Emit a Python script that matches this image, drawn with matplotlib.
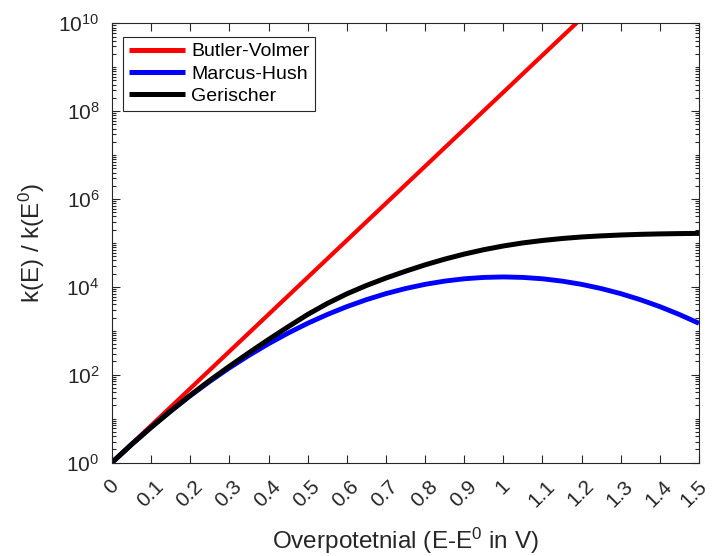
import matplotlib
matplotlib.use('Agg')
import matplotlib.pyplot as plt
import matplotlib.transforms as mtransforms
from matplotlib.ticker import FixedLocator, NullFormatter

plt.rcParams['font.family'] = ['Liberation Sans', 'DejaVu Sans']
plt.rcParams['mathtext.fontset'] = 'custom'
plt.rcParams['mathtext.rm'] = 'Liberation Sans'
plt.rcParams['mathtext.it'] = 'Liberation Sans:italic'
plt.rcParams['mathtext.bf'] = 'Liberation Sans:bold'

# ---- data ----
eta_bv = [0.0, 0.1, 0.2, 0.3, 0.4, 0.5, 0.6, 0.7, 0.8, 0.9, 1.0, 1.1, 1.2]
k_bv = [1, 6.97, 48.5, 338, 2355, 16406, 114288, 796159, 5.546e6,
        3.864e7, 2.692e8, 1.875e9, 1.306e10]

eta = [0.0, 0.05, 0.1, 0.15, 0.2, 0.25, 0.3, 0.35, 0.4, 0.45, 0.5,
       0.55, 0.6, 0.65, 0.7, 0.75, 0.8, 0.85, 0.9, 0.95, 1.0,
       1.05, 1.1, 1.15, 1.2, 1.25, 1.3, 1.35, 1.4, 1.45, 1.5]
k_mh = [1, 2.58, 6.35, 14.9, 33.2, 70.5, 143, 275, 506, 885, 1476,
        2339, 3540, 5093, 6998, 9141, 11376, 13490, 15240, 16368, 16788,
        16368, 15240, 13490, 11376, 9141, 6998, 5093, 3540, 2339, 1476]
k_ger = [1, 2.57, 6.31, 14.8, 33.9, 74.1, 155, 316, 631, 1230, 2344,
         4169, 6918, 10715, 15849, 22646, 31623, 42658, 55590, 69984, 85114,
         100000, 113501, 125893, 136458, 144544, 151356, 156675, 160325, 162930, 164816]

series_labels = ['Butler-Volmer', 'Marcus-Hush', 'Gerischer']
ytick_vals = [1e0, 1e2, 1e4, 1e6, 1e8, 1e10]
ytick_labels = [r'$\mathregular{10^{0}}$', r'$\mathregular{10^{2}}$', r'$\mathregular{10^{4}}$',
                r'$\mathregular{10^{6}}$', r'$\mathregular{10^{8}}$', r'$\mathregular{10^{10}}$']
xtick_vals = [0.0, 0.1, 0.2, 0.3, 0.4, 0.5, 0.6, 0.7, 0.8, 0.9, 1.0, 1.1, 1.2, 1.3, 1.4, 1.5]
xtick_labels = ['0', '0.1', '0.2', '0.3', '0.4', '0.5', '0.6', '0.7', '0.8', '0.9',
                '1', '1.1', '1.2', '1.3', '1.4', '1.5']

axc = '#262626'

fig = plt.figure(figsize=(7.13, 5.56), dpi=100)
ax = fig.add_axes([112 / 713, 1 - 462.5 / 556, 587 / 713, 439.2 / 556])

ax.plot(eta_bv, k_bv, color='#ff0000', lw=3.0, label=series_labels[0], solid_capstyle='butt')
ax.plot(eta, k_mh, color='#0000ff', lw=3.5, label=series_labels[1], solid_capstyle='butt')
ax.plot(eta, k_ger, color='#000000', lw=3.6, label=series_labels[2], solid_capstyle='butt')

ax.set_yscale('log')
ax.set_xlim(0, 1.5)
ax.set_ylim(1, 1e10)

ax.set_yticks(ytick_vals)
ax.set_yticklabels(ytick_labels)
minor = [m * 10 ** d for d in range(10) for m in range(2, 10)] + [10 ** d for d in (1, 3, 5, 7, 9)]
ax.yaxis.set_minor_locator(FixedLocator(minor))
ax.yaxis.set_minor_formatter(NullFormatter())

ax.set_xticks(xtick_vals)
ax.set_xticklabels(xtick_labels, rotation=45, ha='center', va='top')

ax.tick_params(which='both', direction='in', top=True, right=True, color=axc,
               labelcolor=axc, labelsize=15, width=0.8)
ax.tick_params(which='major', length=6)
ax.tick_params(which='minor', length=3)
ax.tick_params(axis='x', pad=10)
ax.tick_params(axis='y', pad=9)

# small horizontal nudge of the rotated x tick labels (after tick_params)
xlabs = ax.get_xticklabels()
for i, lab in enumerate(xlabs):
    dx = -5 if i == len(xlabs) - 1 else -1
    lab.set_transform(lab.get_transform() +
                      mtransforms.ScaledTranslation(dx / 100, 0, fig.dpi_scale_trans))

for s in ax.spines.values():
    s.set_color(axc)
    s.set_linewidth(0.8)

ax.set_xlabel(r'Overpotetnial (E-E$^0$ in V)', fontsize=17.5, color=axc, labelpad=11)
ax.set_ylabel(r'k(E) / k(E$^0$)', fontsize=17.5, color=axc, labelpad=8)

leg = ax.legend(loc='upper left', bbox_to_anchor=(0.0187, 0.969), fontsize=14,
                frameon=True, fancybox=False, edgecolor='#262626', framealpha=1,
                handlelength=2.9, handletextpad=0.3, borderpad=0.3, labelspacing=0.25,
                borderaxespad=0)
leg.get_frame().set_linewidth(0.8)
for line in leg.get_lines():
    line.set_linewidth(3.6)

fig.savefig('out.png', dpi=100)
